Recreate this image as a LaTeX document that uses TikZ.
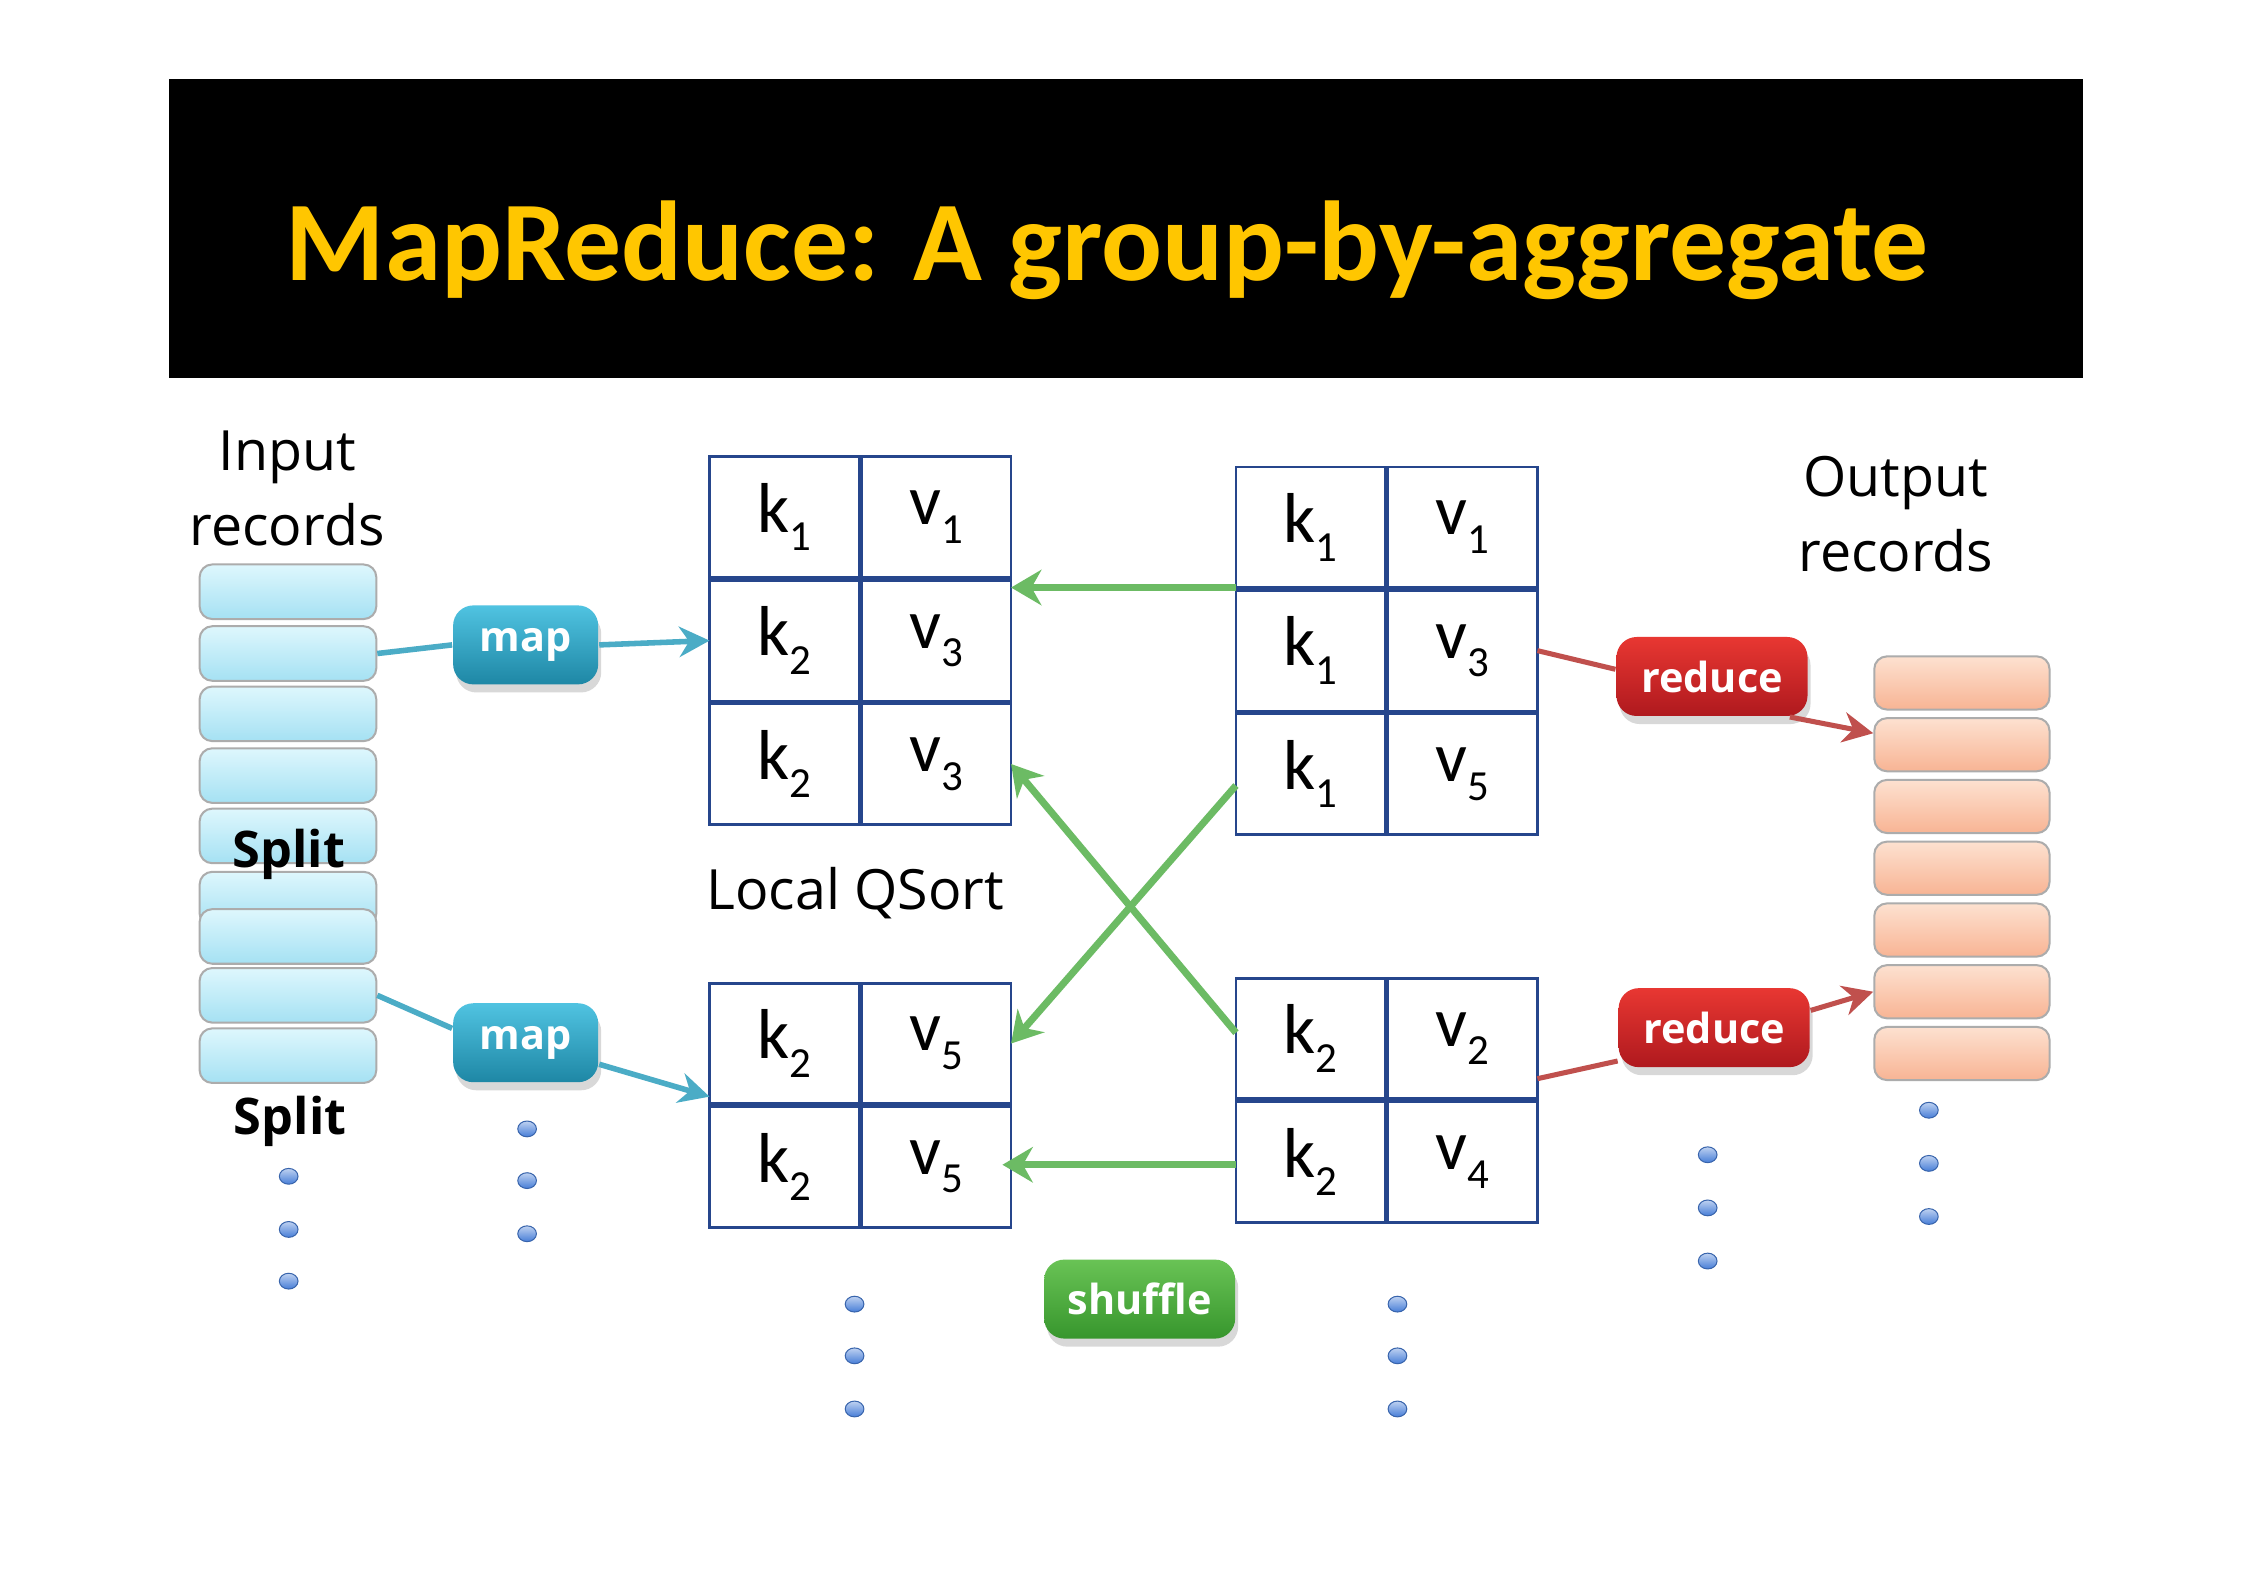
\documentclass[tikz,border=0pt]{standalone}
\usepackage{fontspec}
\setmainfont{Carlito}
\newfontfamily\uifont{Open Sans}
\usetikzlibrary{arrows.meta,positioning,matrix,shapes.geometric,shadows}

\definecolor{MRGold}{RGB}{255,198,0}
\definecolor{MRNavy}{RGB}{38,70,140}
\definecolor{MRTealTop}{RGB}{80,195,225}
\definecolor{MRTealBot}{RGB}{30,135,165}
\definecolor{MRTeal}{RGB}{75,172,198}
\definecolor{MRRedTop}{RGB}{232,55,50}
\definecolor{MRRedBot}{RGB}{175,25,30}
\definecolor{MRRed}{RGB}{192,80,77}
\definecolor{MRGreenTop}{RGB}{105,195,85}
\definecolor{MRGreenBot}{RGB}{55,150,45}
\definecolor{MRGreen}{RGB}{108,187,100}
\definecolor{MRInTop}{RGB}{222,247,253}
\definecolor{MRInBot}{RGB}{165,225,243}
\definecolor{MROutTop}{RGB}{253,225,208}
\definecolor{MROutBot}{RGB}{248,180,148}
\definecolor{MRDot}{RGB}{70,125,215}

\newcommand\kvsub[2]{#1\raisebox{-0.55ex}{\fontsize{8.5}{9}\selectfont #2}}

\begin{document}
\begin{tikzpicture}[x=1cm,y=1cm,
    lbl/.style={font=\uifont\fontsize{11}{15}\selectfont,align=center},
    splitlbl/.style={font=\uifont\bfseries\fontsize{10}{12}\selectfont},
    cell/.style={draw=MRNavy,line width=0.55pt,minimum width=1.04cm,
                 minimum height=0.84cm,inner sep=0pt,outer sep=0pt,anchor=center,
                 font=\fontsize{14}{16}\selectfont},
    kvtab/.style={matrix of nodes,nodes={cell},row sep=0pt,column sep=0pt,
                  inner sep=0pt},
    btn/.style={rounded corners=4pt,minimum height=0.55cm,text=white,
                font=\uifont\bfseries\fontsize{8.2}{10}\selectfont,
                drop shadow={opacity=0.3,shadow xshift=0.6pt,shadow yshift=-1.6pt}},
    mapbtn/.style={btn,minimum width=1.01cm,top color=MRTealTop,bottom color=MRTealBot},
    redbtn/.style={btn,minimum width=1.33cm,top color=MRRedTop,bottom color=MRRedBot},
    shufbtn/.style={btn,minimum width=1.33cm,top color=MRGreenTop,bottom color=MRGreenBot},
    inrec/.style={draw=gray!65,rounded corners=2.5pt,minimum width=1.23cm,
                  minimum height=0.38cm,top color=MRInTop,bottom color=MRInBot},
    outrec/.style={draw=gray!65,rounded corners=2.5pt,minimum width=1.22cm,
                   minimum height=0.37cm,top color=MROutTop,bottom color=MROutBot},
    vdot/.style={ellipse,draw=MRDot!80!black,line width=0.2pt,minimum width=0.13cm,
                 minimum height=0.11cm,inner sep=0pt,top color=MRDot!35,bottom color=MRDot},
    tarr/.style={MRTeal,line width=1.1pt},
    rarr/.style={MRRed,line width=1pt},
    garr/.style={-{Stealth[length=6pt,width=7pt]},MRGreen,line width=1.4pt}]

  % page and title bar
  \fill[white] (0,0) rectangle (15.68,-11.10);
  \useasboundingbox (0,0) rectangle (15.68,-11.10);
  \node[fill=black,minimum width=13.32cm,minimum height=2.08cm] (banner) at (7.84,-1.59) {};
  \node[anchor=base,text=MRGold,font=\bfseries\fontsize{22.5}{26}\selectfont] (ttl)
       at (7.71,-1.95) {MapReduce: A group-by-aggregate};

  % input records
  \node[lbl] (inlbl) at (2.00,-3.40) {Input\\records};
  \foreach \y [count=\i] in {4.12,4.55,4.97,5.40,5.82,6.26,6.52,6.93,7.35}
    \node[inrec] (in\i) at (2.005,-\y) {};
  \node[splitlbl] (split1) at (2.01,-5.95) {Split};
  \node[splitlbl] (split2) at (2.02,-7.81) {Split};

  % map
  \node[mapbtn] (map1) at (3.66,-4.49) {map};
  \node[mapbtn] (map2) at (3.66,-7.26) {map};

  % local sort tables
  \matrix (lt) [kvtab] at (5.99,-4.46) {
    \kvsub{k}{1} & \kvsub{v}{1} \\
    \kvsub{k}{2} & \kvsub{v}{3} \\
    \kvsub{k}{2} & \kvsub{v}{3} \\
  };
  \matrix (lb) [kvtab] at (5.99,-7.695) {
    \kvsub{k}{2} & \kvsub{v}{5} \\
    \kvsub{k}{2} & \kvsub{v}{5} \\
  };
  \node[lbl] (qsort) at (5.955,-6.22) {Local QSort};

  % reducer side tables
  \matrix (rt) [kvtab] at (9.655,-4.53) {
    \kvsub{k}{1} & \kvsub{v}{1} \\
    \kvsub{k}{1} & \kvsub{v}{3} \\
    \kvsub{k}{1} & \kvsub{v}{5} \\
  };
  \matrix (rb) [kvtab] at (9.655,-7.66) {
    \kvsub{k}{2} & \kvsub{v}{2} \\
    \kvsub{k}{2} & \kvsub{v}{4} \\
  };
  \node[shufbtn] (shuf) at (7.935,-9.045) {shuffle};

  % reduce and output records
  \node[redbtn] (red1) at (11.92,-4.71) {reduce};
  \node[redbtn] (red2) at (11.935,-7.155) {reduce};
  \node[lbl] (outlbl) at (13.20,-3.58) {Output\\records};
  \foreach \y [count=\i] in {4.755,5.185,5.615,6.045,6.475,6.905,7.335}
    \node[outrec] (out\i) at (13.66,-\y) {};

  % connectors
  \draw[tarr] (in2.east) -- (map1.west);
  \draw[tarr,-{Stealth[length=6pt,width=6pt]}] (map1.east) -- (lt-2-1.west);
  \draw[tarr] (in8.east) -- ([yshift=1mm]map2.west);
  \draw[tarr,-{Stealth[length=6pt,width=6pt]}] ([yshift=-1.5mm]map2.east) -- ([yshift=0.5mm]lb-1-1.south west);

  \draw[garr] (rt-1-1.south west) -- (rt-1-1.south west -| lt-1-2.east);
  \draw[garr] ([yshift=-0.8mm]rt-3-1.west) -- (lb-1-2.east);
  \draw[garr] ([yshift=0.4mm]rb-1-1.west) -- (lt-3-2.east);
  \draw[garr] ([yshift=-0.2mm]rb-2-1.west) -- ([xshift=-0.6mm,yshift=-0.2mm]rb-2-1.west -| lb-2-2.east);

  \draw[rarr] (rt-2-2.east) -- ([yshift=0.5mm]red1.west);
  \draw[rarr,-{Stealth[length=6pt,width=6pt]}] ([xshift=-1.3mm]red1.south east) -- ([yshift=0.8mm]out2.west);
  \draw[rarr] ([yshift=-2.8mm]rb-1-2.east) -- ([yshift=0.5mm]red2.south west);
  \draw[rarr,-{Stealth[length=6pt,width=6pt]}] ([yshift=1.2mm]red2.east) -- (out6.west);

  % more of the same
  \foreach \x/\y in {2.01/8.19,2.01/8.56,2.01/8.92,3.67/7.86,3.67/8.22,3.67/8.59,
                     5.95/9.08,5.95/9.44,5.95/9.81,9.73/9.08,9.73/9.44,9.73/9.81,
                     11.89/8.04,11.89/8.41,11.89/8.78,13.43/7.73,13.43/8.10,13.43/8.47}
    \node[vdot] at (\x,-\y) {};
\end{tikzpicture}
\end{document}
